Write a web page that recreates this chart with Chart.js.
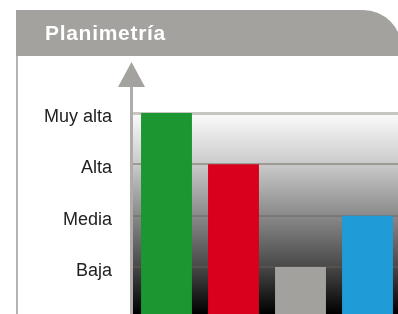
<!DOCTYPE html>
<html>
<head>
<meta charset="utf-8">
<script src="https://cdn.jsdelivr.net/npm/chart.js@4"></script>
<style>
  html, body { margin: 0; padding: 0; background: #fff; overflow: hidden; width: 398px; height: 314px; }
  #wrap { position: relative; width: 398px; height: 314px; overflow: hidden; }
  #c { position: absolute; left: 0; top: 0; }
  .head {
    position: absolute; left: 16px; top: 10px; width: 386px; height: 46px;
    background: #a3a29e; border-top-right-radius: 39px;
  }
  .head h1 {
    margin: 0; position: absolute; left: 29px; top: 11px;
    font: bold 21px "Liberation Sans", Arial, sans-serif; letter-spacing: 0.7px; color: #fff;
  }
  .side { position: absolute; left: 16px; top: 56px; width: 2px; height: 258px; background: #b4b3af; }
</style>
</head>
<body>
<div id="wrap">
  <!-- canvas runs past the bottom edge: the y scale keeps ~32px under its lowest label -->
  <canvas id="c" width="401" height="346"></canvas>
  <div class="head"><h1>Planimetría</h1></div>
  <div class="side"></div>
</div>
<script>
// ---- data ----
const categories = ['1', '2', '3', '4'];
const levels = [4, 3, 1, 2];
const barColors = ['#1b9630', '#d9001d', '#a3a19d', '#1f9bd7'];
const tickValues = [1, 2, 3, 4];
const tickLabels = ['Baja', 'Media', 'Alta', 'Muy alta'];

(function () {
  // ---- gradient behind bars ----
  const plotBg = {
    id: 'plotBg',
    beforeDraw(chart) {
      const { ctx, chartArea: a } = chart;
      const g = ctx.createLinearGradient(0, a.top, 0, a.bottom);
      g.addColorStop(0, '#fbfbfb');
      g.addColorStop(0.25, '#cbcbcb');
      g.addColorStop(0.5, '#8c8c8c');
      g.addColorStop(0.75, '#4c4c4c');
      g.addColorStop(1, '#000');
      ctx.save();
      ctx.fillStyle = g;
      ctx.fillRect(a.left, a.top, a.right - a.left, a.bottom - a.top);
      ctx.restore();
    }
  };

  // ---- y axis line with arrow head ----
  const axisArrow = {
    id: 'axisArrow',
    afterDatasetsDraw(chart) {
      const { ctx, chartArea: a } = chart;
      const x = a.left - 1.5;
      const tipY = a.top - 51, baseY = a.top - 26;
      ctx.save();
      ctx.strokeStyle = '#aeada9';
      ctx.lineWidth = 3;
      ctx.beginPath();
      ctx.moveTo(x, baseY);
      ctx.lineTo(x, a.bottom);
      ctx.stroke();
      ctx.fillStyle = '#a3a29e';
      ctx.beginPath();
      ctx.moveTo(x, tipY);
      ctx.lineTo(x + 13.5, baseY);
      ctx.lineTo(x - 13.5, baseY);
      ctx.closePath();
      ctx.fill();
      ctx.restore();
    }
  };

  new Chart(document.getElementById('c'), {
    type: 'bar',
    data: {
      labels: categories,
      datasets: [{
        data: levels,
        backgroundColor: barColors,
        borderWidth: 0,
        barPercentage: 0.76,
        categoryPercentage: 1
      }]
    },
    options: {
      responsive: false,
      animation: false,
      layout: { padding: { top: 113, right: 0, bottom: 0, left: 0 } },
      plugins: { legend: { display: false }, tooltip: { enabled: false } },
      scales: {
        x: { display: false },
        y: {
          min: 0.08,
          max: 4,
          afterFit: s => { s.width = 133; },
          afterBuildTicks: s => { s.ticks = tickValues.map(v => ({ value: v })); },
          border: { display: false },
          grid: {
            drawTicks: false,
            color: c => c.tick && c.tick.value === 4 ? '#c8c6c2' : 'rgba(105,95,85,0.45)',
            lineWidth: c => c.tick && c.tick.value === 4 ? 3 : 2
          },
          ticks: {
            padding: 21,
            labelOffset: 4,
            color: '#222',
            font: { family: '"Liberation Sans", Arial, sans-serif', size: 18 },
            callback: v => tickLabels[tickValues.indexOf(v)]
          }
        }
      }
    },
    plugins: [plotBg, axisArrow]
  });
})();
</script>
</body>
</html>
